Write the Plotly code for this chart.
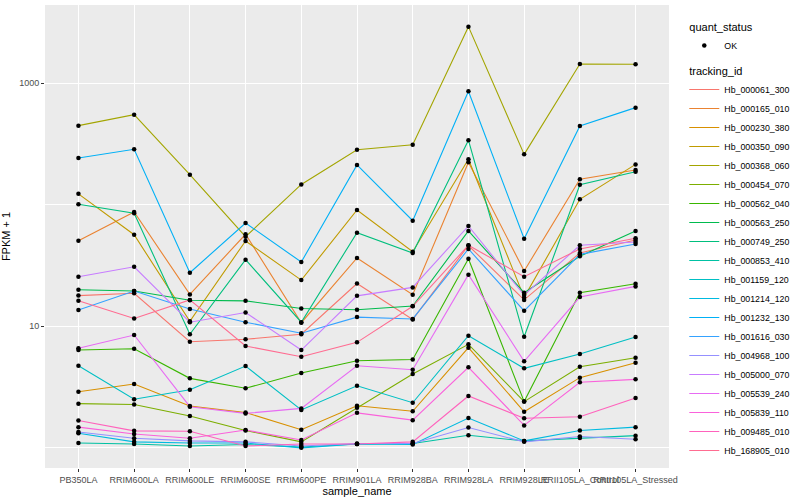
import plotly.graph_objects as go

samples = ["PB350LA", "RRIM600LA", "RRIM600LE", "RRIM600SE", "RRIM600PE", "RRIM901LA",
           "RRIM928BA", "RRIM928LA", "RRIM928LE", "RRII105LA_Control", "RRII105LA_Stressed"]

tracking_ids = ["Hb_000061_300", "Hb_000165_010", "Hb_000230_380", "Hb_000350_090",
                "Hb_000368_060", "Hb_000454_070", "Hb_000562_040", "Hb_000563_250",
                "Hb_000749_250", "Hb_000853_410", "Hb_001159_120", "Hb_001214_120",
                "Hb_001232_130", "Hb_001616_030", "Hb_004968_100", "Hb_005000_070",
                "Hb_005539_240", "Hb_005839_110", "Hb_009485_010", "Hb_168905_010"]

# FPKM + 1 per sample (order of `samples`)
hb_000061_300 = [17.9, 18.7, 7.47, 7.82, 8.6, 22.5, 11.4, 46.2, 16.5, 40.1, 51.3]
hb_000165_010 = [50.6, 87.2, 18.3, 57.2, 10.7, 36.5, 18.2, 224, 28.5, 162, 193]
hb_000230_380 = [2.89, 3.35, 2.21, 1.95, 1.41, 2.22, 2.00, 6.67, 1.98, 3.78, 5.02]
hb_000350_090 = [123, 56.7, 11.0, 50.4, 24.0, 90.6, 41.1, 237, 17.3, 111, 215]
hb_000368_060 = [448, 551, 177, 54.6, 147, 284, 312, 2923, 260, 1441, 1433]
hb_000454_070 = [2.31, 2.27, 1.83, 1.39, 1.12, 2.14, 4.05, 7.11, 2.40, 4.65, 5.51]
hb_000562_040 = [6.38, 6.54, 3.73, 3.09, 4.13, 5.21, 5.33, 36.0, 2.40, 18.9, 22.4]
hb_000563_250 = [20.0, 19.5, 16.4, 16.2, 14.0, 13.7, 14.7, 60.9, 18.9, 37.7, 60.9]
hb_000749_250 = [101, 85.1, 8.6, 35.3, 10.8, 58.9, 40.1, 340, 8.2, 146, 187]
hb_000853_410 = [1.095, 1.075, 1.035, 1.065, 1.015, 1.075, 1.085, 1.27, 1.14, 1.205, 1.26]
hb_001159_120 = [4.74, 2.51, 3.01, 4.71, 2.05, 3.24, 2.35, 8.37, 4.51, 5.92, 8.17]
hb_001214_120 = [1.32, 1.12, 1.095, 1.095, 1.0, 1.075, 1.065, 1.76, 1.14, 1.39, 1.48]
hb_001232_130 = [243, 286, 27.6, 70.8, 33.8, 213, 74, 859, 52.6, 445, 630]
hb_001616_030 = [13.6, 19.5, 13.9, 10.8, 8.76, 11.9, 11.5, 43.3, 13.4, 39.1, 47.6]
hb_004968_100 = [1.35, 1.20, 1.14, 1.12, 1.035, 1.085, 1.085, 1.47, 1.12, 1.24, 1.175]
hb_005000_070 = [25.6, 30.9, 10.8, 13.0, 6.38, 17.8, 20.9, 66.9, 18.1, 46.4, 49.4]
hb_005539_240 = [6.59, 8.48, 2.18, 1.92, 2.11, 4.74, 4.39, 26.6, 5.15, 17.4, 21.3]
hb_005839_110 = [1.48, 1.30, 1.20, 1.40, 1.16, 1.94, 1.69, 4.60, 1.53, 3.46, 3.66]
hb_009485_010 = [1.68, 1.38, 1.37, 1.035, 1.075, 1.075, 1.12, 2.67, 1.75, 1.80, 2.57]
hb_168905_010 = [16.2, 11.6, 16.5, 6.88, 5.62, 7.38, 14.6, 46.4, 25.6, 43.3, 53.0]

series = [hb_000061_300, hb_000165_010, hb_000230_380, hb_000350_090, hb_000368_060,
          hb_000454_070, hb_000562_040, hb_000563_250, hb_000749_250, hb_000853_410,
          hb_001159_120, hb_001214_120, hb_001232_130, hb_001616_030, hb_004968_100,
          hb_005000_070, hb_005539_240, hb_005839_110, hb_009485_010, hb_168905_010]

y_tick_vals = [10, 1000]
y_tick_text = ["10", "1000"]
y_minor_vals = [1, 100]

colors = ["#F8766D", "#EA8331", "#D89000", "#C09B00", "#A3A500", "#7CAE00", "#39B600",
          "#00BB4E", "#00BF7D", "#00C1A3", "#00BFC4", "#00BAE0", "#00B0F6", "#35A2FF",
          "#9590FF", "#C77CFF", "#E76BF3", "#FA62DB", "#FF62BC", "#FF6C91"]

FONT = "Liberation Sans, Arial, Helvetica, sans-serif"

fig = go.Figure()
for i, (tid, vals, col) in enumerate(zip(tracking_ids, series, colors)):
    fig.add_trace(go.Scatter(
        x=samples, y=vals, mode="lines", name=tid,
        line=dict(color=col, width=1.1),
        legendgroup="tracking_id",
        legendgrouptitle=dict(text="tracking_id", font=dict(size=11, color="black")),
        legendrank=10 + i,
    ))

pts_x = [s for vals in series for s in samples]
pts_y = [v for vals in series for v in vals]
fig.add_trace(go.Scatter(
    x=pts_x, y=pts_y, mode="markers", name="OK",
    marker=dict(color="black", size=4.5),
    legendgroup="quant_status",
    legendgrouptitle=dict(text="quant_status", font=dict(size=11, color="black")),
    legendrank=1,
))

fig.update_layout(
    width=800, height=500,
    margin=dict(l=45, r=116, t=5, b=32),
    plot_bgcolor="#EBEBEB", paper_bgcolor="white",
    font=dict(family=FONT, color="black"),
    showlegend=True,
    legend=dict(x=1.0245, xanchor="left", y=0.985, yanchor="top",
                font=dict(size=8.8, color="black"), tracegroupgap=6,
                bgcolor="rgba(0,0,0,0)", traceorder="grouped"),
    xaxis=dict(type="category", categoryorder="array", categoryarray=samples,
               range=[-0.6, 10.6], showgrid=True, gridcolor="white", gridwidth=1.1,
               ticks="outside", ticklen=3, tickcolor="#333333", tickwidth=1,
               tickfont=dict(size=9, color="#4D4D4D"), tickangle=0,
               zeroline=False, showline=False,
               title=dict(text="sample_name", font=dict(size=11, color="black"), standoff=3)),
    yaxis=dict(type="log", range=[-0.166, 3.644],
               tickmode="array", tickvals=y_tick_vals, ticktext=y_tick_text,
               showgrid=True, gridcolor="white", gridwidth=1.1,
               minor=dict(tickmode="array", tickvals=y_minor_vals, showgrid=True,
                          gridcolor="white", gridwidth=0.55, ticks=""),
               ticks="outside", ticklen=3, tickcolor="#333333", tickwidth=1,
               tickfont=dict(size=9, color="#4D4D4D"),
               zeroline=False, showline=False,
               title=dict(text="FPKM + 1", font=dict(size=11, color="black"), standoff=6)),
)
try:
    fig.update_layout(legend_maxheight=495)
except Exception:
    pass

fig.write_html("out.html", config={"displayModeBar": False},
               post_script="document.body.style.margin='0';document.body.style.overflow='hidden';")
